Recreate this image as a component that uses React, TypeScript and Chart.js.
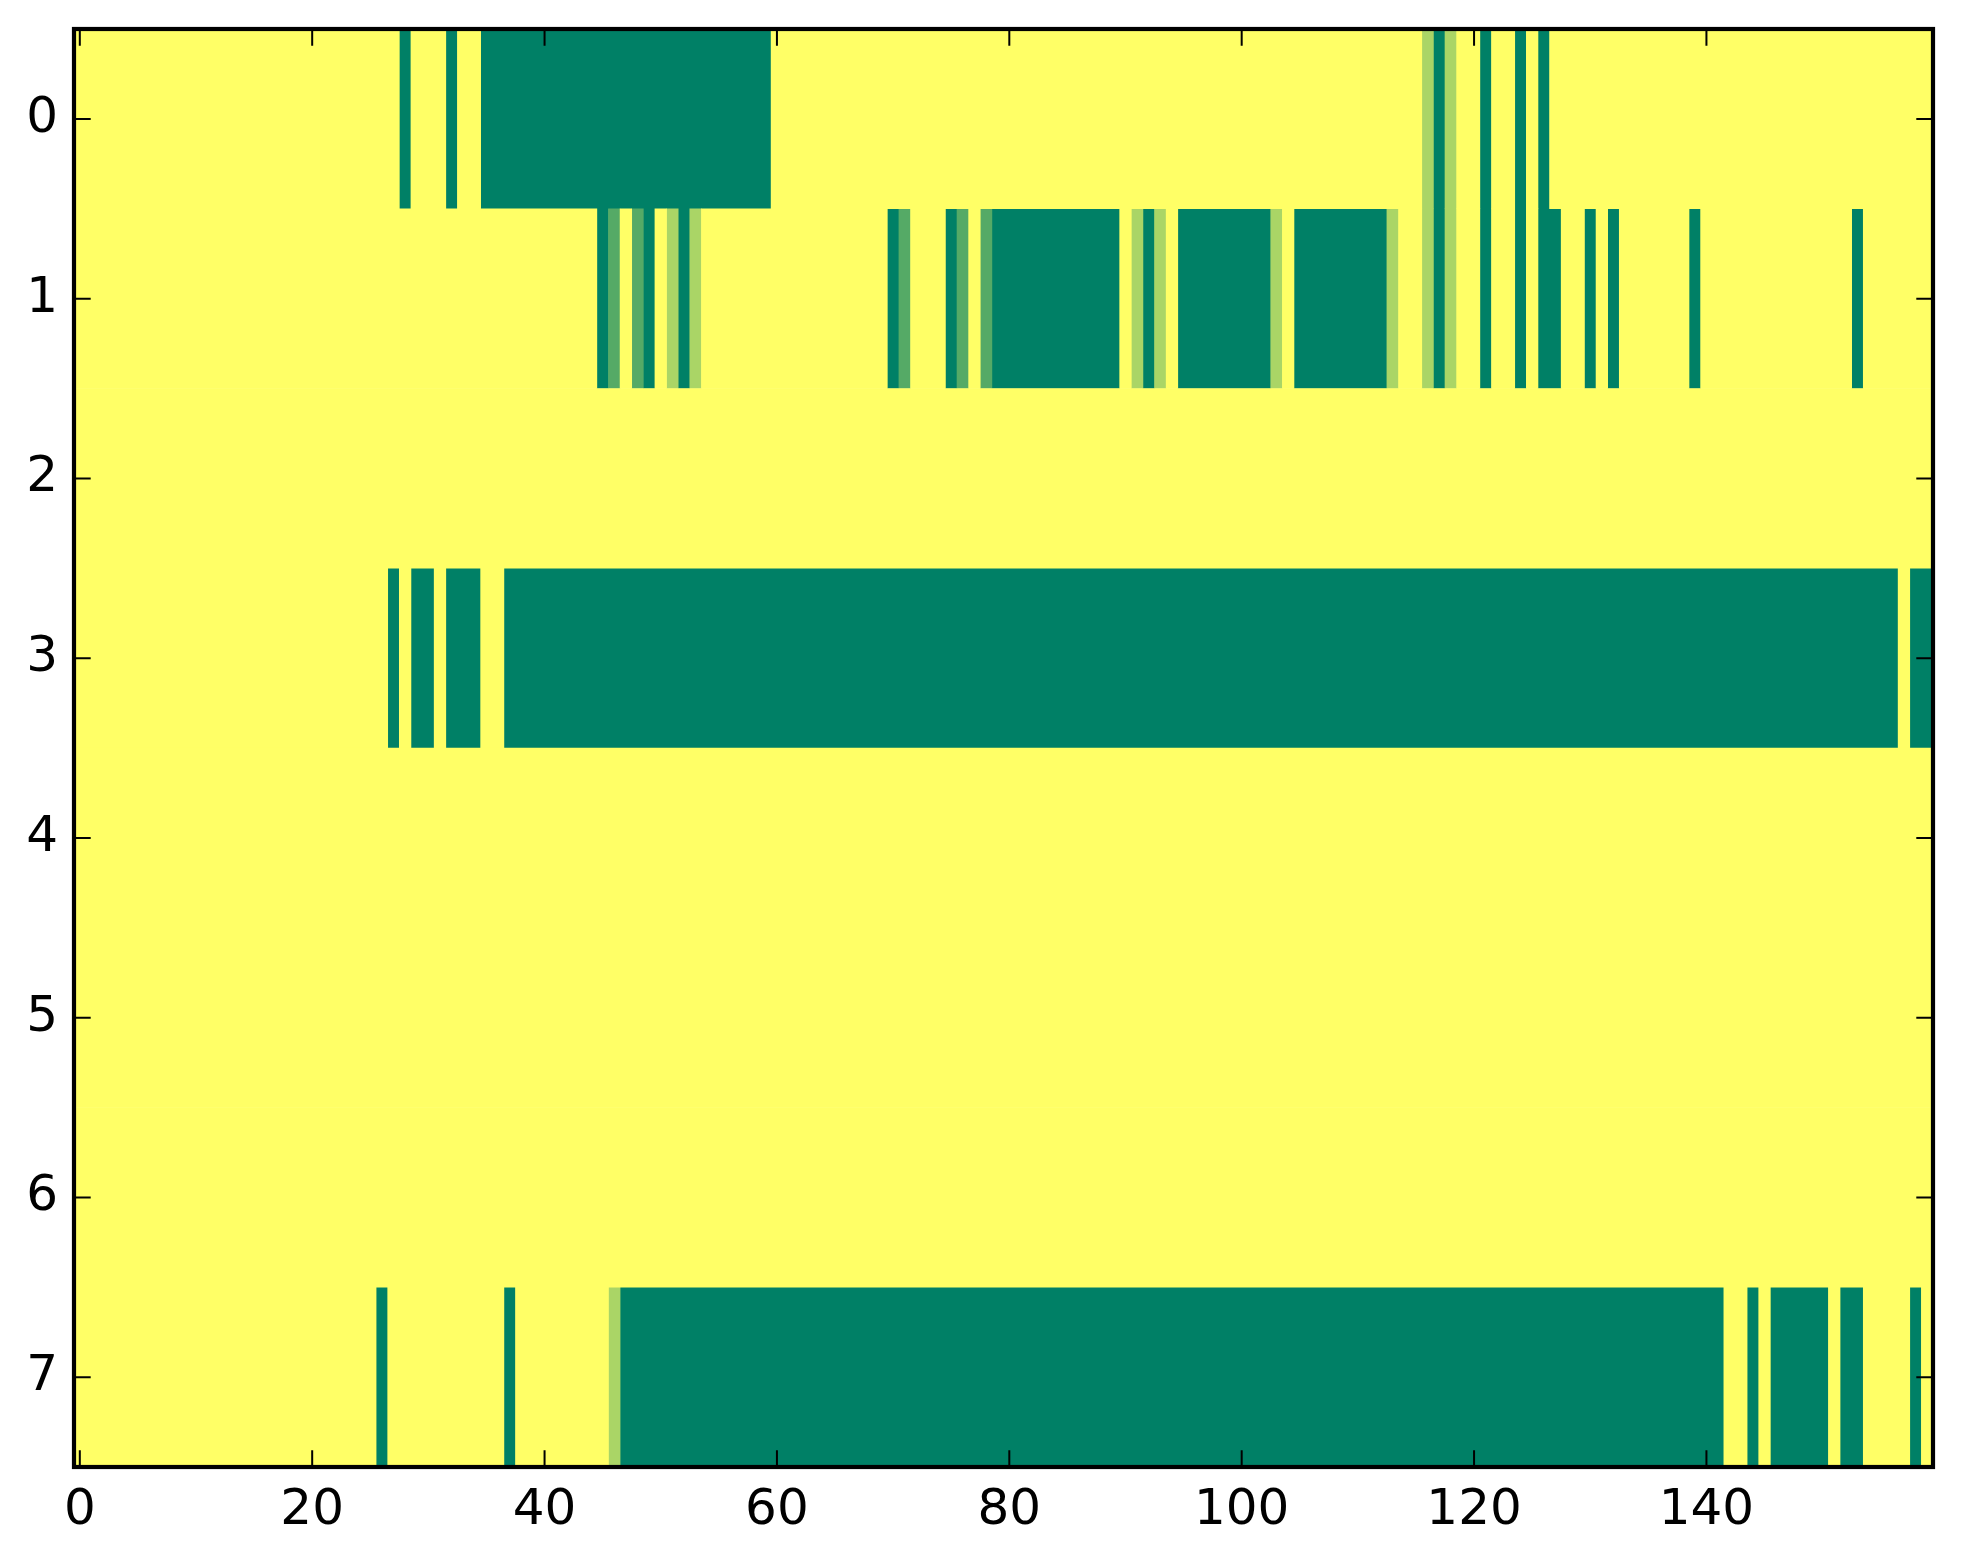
import React, { useEffect, useRef } from "react";
import { Chart, registerables } from "chart.js";

Chart.register(...registerables);

// ---- data ----
const rowLabels = ["0", "1", "2", "3", "4", "5", "6", "7"];
const columnCount = 160;
const xTickValues = [0, 20, 40, 60, 80, 100, 120, 140];

// cells that are not 1 (yellow): [firstColumn, lastColumn, value]
const row0 = [
  [28, 28, 0], [32, 32, 0], [35, 59, 0],
  [116, 116, 0.667], [117, 117, 0], [118, 118, 0.667],
  [121, 121, 0], [124, 124, 0], [126, 126, 0],
];
const row1 = [
  [45, 45, 0], [46, 46, 0.333], [48, 48, 0.333], [49, 49, 0],
  [51, 51, 0.667], [52, 52, 0], [53, 53, 0.667],
  [70, 70, 0], [71, 71, 0.333], [75, 75, 0], [76, 76, 0.333],
  [78, 78, 0.333], [79, 89, 0], [91, 91, 0.667], [92, 92, 0],
  [93, 93, 0.667], [95, 102, 0], [103, 103, 0.667], [105, 112, 0],
  [113, 113, 0.667], [116, 116, 0.667], [117, 117, 0], [118, 118, 0.667],
  [121, 121, 0], [124, 124, 0], [126, 127, 0], [130, 130, 0],
  [132, 132, 0], [139, 139, 0], [153, 153, 0],
];
const row2: number[][] = [];
const row3 = [
  [27, 27, 0], [29, 30, 0], [32, 34, 0], [37, 156, 0], [158, 159, 0],
];
const row4: number[][] = [];
const row5: number[][] = [];
const row6: number[][] = [];
const row7 = [
  [26, 26, 0], [37, 37, 0], [46, 46, 0.667], [47, 141, 0],
  [144, 144, 0], [146, 150, 0], [152, 153, 0], [158, 158, 0],
];
const rows = [row0, row1, row2, row3, row4, row5, row6, row7];

// summer colormap
function summer(v: number) {
  const r = Math.round(255 * v);
  const g = Math.round(255 * (0.5 + 0.5 * v));
  return `rgb(${r}, ${g}, 102)`;
}

function buildGrid() {
  return rows.map((segs) => {
    const line = new Array(columnCount).fill(1);
    segs.forEach(([a, b, v]) => {
      for (let c = a; c <= b; c++) line[c] = v;
    });
    return line;
  });
}

function buildDatasets() {
  const grid = buildGrid();
  const byLevel = new Map<number, any[]>();
  grid.forEach((line, r) => {
    let start = 0;
    for (let c = 1; c <= line.length; c++) {
      if (c === line.length || line[c] !== line[start]) {
        const v = line[start];
        if (!byLevel.has(v)) byLevel.set(v, []);
        byLevel.get(v)!.push({ x: [start - 0.5, c - 1 + 0.5], y: rowLabels[r] });
        start = c;
      }
    }
  });
  const levels = Array.from(byLevel.keys()).sort((a, b) => b - a);
  return levels.map((v) => ({
    label: String(v),
    data: byLevel.get(v),
    backgroundColor: summer(v),
    borderWidth: 0,
    barPercentage: 1,
    categoryPercentage: 1,
    grouped: false,
  }));
}

const frameTicks = {
  id: "frameTicks",
  afterDatasetsDraw(chart: any) {
    const { ctx, chartArea } = chart;
    const { left, right, top, bottom } = chartArea;
    const xs = chart.scales.x;
    const ys = chart.scales.y;
    const len = 16.7;
    ctx.save();
    ctx.strokeStyle = "#000";
    ctx.lineWidth = 2;
    ctx.beginPath();
    xs.ticks.forEach((_t: any, i: number) => {
      const px = xs.getPixelForTick(i);
      ctx.moveTo(px, bottom);
      ctx.lineTo(px, bottom - len);
      ctx.moveTo(px, top);
      ctx.lineTo(px, top + len);
    });
    ys.ticks.forEach((_t: any, i: number) => {
      const py = ys.getPixelForTick(i);
      ctx.moveTo(left, py);
      ctx.lineTo(left + len, py);
      ctx.moveTo(right, py);
      ctx.lineTo(right - len, py);
    });
    ctx.stroke();
    ctx.lineWidth = 4.2;
    ctx.strokeRect(left, top, right - left, bottom - top);
    ctx.restore();
  },
};

export default function App() {
  const ref = useRef<HTMLCanvasElement | null>(null);
  useEffect(() => {
    if (!ref.current) return;
    const font = { family: "DejaVu Sans", size: 50 };
    const chart = new Chart(ref.current, {
      type: "bar",
      data: { labels: rowLabels, datasets: buildDatasets() as any },
      options: {
        indexAxis: "y",
        responsive: false,
        maintainAspectRatio: false,
        devicePixelRatio: 1,
        animation: false,
        layout: { padding: { top: 29, right: 30, left: 0, bottom: 0 } },
        plugins: { legend: { display: false }, tooltip: { enabled: false } },
        scales: {
          x: {
            type: "linear",
            min: -0.5,
            max: columnCount - 0.5,
            grid: { display: false, drawTicks: false },
            border: { display: false },
            afterBuildTicks: (s: any) => {
              s.ticks = xTickValues.map((v) => ({ value: v }));
            },
            afterFit: (s: any) => {
              s.height = 97;
              s.paddingLeft = 0;
              s.paddingRight = 0;
            },
            ticks: {
              font,
              color: "#000",
              padding: 14,
              maxRotation: 0,
              autoSkip: false,
              callback: (v: any) => String(v),
            },
          },
          y: {
            type: "category",
            offset: true,
            grid: { display: false, drawTicks: false },
            border: { display: false },
            afterFit: (s: any) => {
              s.width = 74;
              s.paddingTop = 0;
              s.paddingBottom = 0;
            },
            ticks: { font, color: "#000", padding: 16, autoSkip: false },
          },
        },
      } as any,
      plugins: [frameTicks],
    });
    return () => chart.destroy();
  }, []);
  return (
    <div
      style={{
        position: "fixed",
        left: 0,
        top: 0,
        width: 1963,
        height: 1564,
        background: "#fff",
      }}
    >
      <canvas
        ref={ref}
        width={1963}
        height={1564}
        style={{ width: 1963, height: 1564, display: "block" }}
      />
    </div>
  );
}
